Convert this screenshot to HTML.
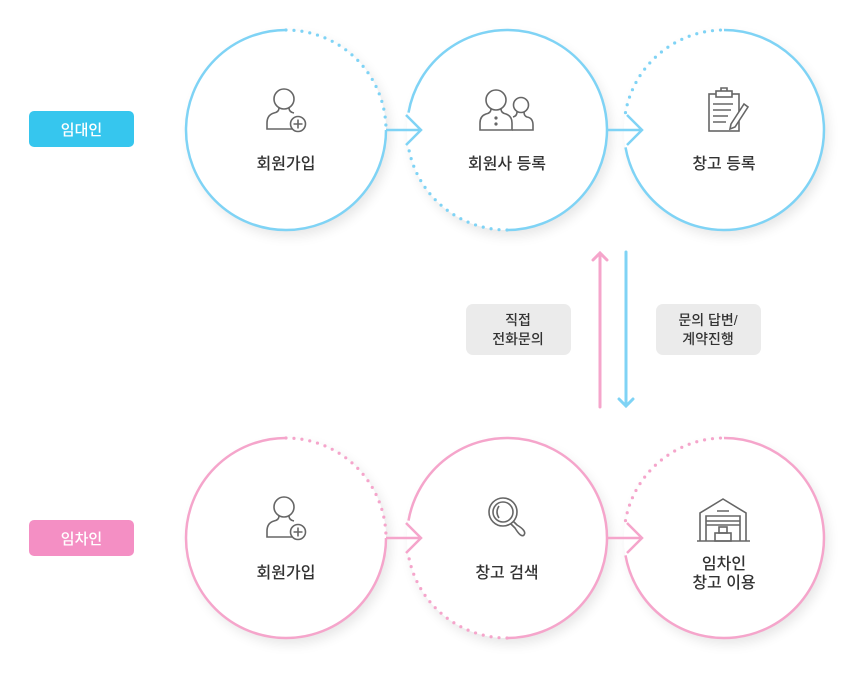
<!DOCTYPE html>
<html><head><meta charset="utf-8">
<style>
html,body{margin:0;padding:0;background:#fff;}
body{width:854px;height:669px;overflow:hidden;font-family:"Liberation Sans","Noto Sans CJK KR",sans-serif;}
text{font-family:"Liberation Sans","Noto Sans CJK KR",sans-serif;}
</style></head><body>
<svg width="854" height="669" viewBox="0 0 854 669" xmlns="http://www.w3.org/2000/svg">
<defs>
<filter id="sh" x="-30%" y="-30%" width="160%" height="160%">
<feGaussianBlur in="SourceAlpha" stdDeviation="6"/><feOffset dx="4" dy="6"/>
<feComponentTransfer><feFuncA type="linear" slope="0.1"/></feComponentTransfer>
<feMerge><feMergeNode/><feMergeNode in="SourceGraphic"/></feMerge></filter>
</defs>
<g fill="#fff" filter="url(#sh)">
<circle cx="286" cy="130" r="100"/><circle cx="507" cy="130" r="100"/><circle cx="724" cy="130" r="100"/>
<circle cx="286" cy="538" r="100"/><circle cx="507" cy="538" r="100"/><circle cx="724" cy="538" r="100"/>
</g>
<g fill="none" stroke="#7fd3f5" stroke-width="2.5">
<path d="M386,130 A100,100 0 1 1 286,30"/>
<path d="M286,30 A100,100 0 0 1 386,130" stroke-width="3.2" stroke-dasharray="0 8" stroke-linecap="round"/>
<path d="M408.5,112.6 A100,100 0 1 1 507,230"/>
<path d="M507,230 A100,100 0 0 1 408.5,147.4" stroke-width="3.2" stroke-dasharray="0 8" stroke-linecap="round"/>
<path d="M625.5,112.6 A100,100 0 0 1 724,30" stroke-width="3.2" stroke-dasharray="0 8" stroke-linecap="round"/>
<path d="M724,30 A100,100 0 1 1 625.5,147.4"/>
<path d="M386,130 H421 M406,115 L421,130 L406,145"/>
<path d="M607,130 H642 M627,115 L642,130 L627,145"/>
</g>
<g fill="none" stroke="#f5a5cb" stroke-width="2.5">
<path d="M386,538 A100,100 0 1 1 286,438"/>
<path d="M286,438 A100,100 0 0 1 386,538" stroke-width="3.2" stroke-dasharray="0 8" stroke-linecap="round"/>
<path d="M408.5,520.6 A100,100 0 1 1 507,638"/>
<path d="M507,638 A100,100 0 0 1 408.5,555.4" stroke-width="3.2" stroke-dasharray="0 8" stroke-linecap="round"/>
<path d="M625.5,520.6 A100,100 0 0 1 724,438" stroke-width="3.2" stroke-dasharray="0 8" stroke-linecap="round"/>
<path d="M724,438 A100,100 0 1 1 625.5,555.4"/>
<path d="M386,538 H421 M406,523 L421,538 L406,553"/>
<path d="M607,538 H642 M627,523 L642,538 L627,553"/>
</g>
<path d="M600,407 V253 M593,260 L600,253 L607,260" fill="none" stroke="#f5a5cb" stroke-width="3" stroke-linecap="round"/>
<path d="M626,252 V406 M619,399 L626,406 L633,399" fill="none" stroke="#7fd3f5" stroke-width="3" stroke-linecap="round"/>
<rect x="466" y="304" width="105" height="51" rx="7" fill="#ebebeb"/>
<rect x="656" y="304" width="105" height="51" rx="7" fill="#ebebeb"/>
<g font-size="14" fill="#333" text-anchor="middle" font-weight="500">
<text x="518" y="325">직접</text><text x="518" y="344">전화문의</text>
<text x="708" y="325">문의 답변/</text><text x="708" y="344">계약진행</text>
</g>
<rect x="29" y="111" width="105" height="36" rx="5" fill="#36c6ee"/>
<text x="81.5" y="135" font-size="15" fill="#fff" text-anchor="middle" font-weight="500">임대인</text>
<rect x="29" y="520" width="105" height="36" rx="5" fill="#f48fc4"/>
<text x="81.5" y="544" font-size="15" fill="#fff" text-anchor="middle" font-weight="500">임차인</text>
<g font-size="16" fill="#333" text-anchor="middle" font-weight="500">
<text x="286" y="169">회원가입</text>
<text x="507" y="169">회원사 등록</text>
<text x="724" y="169">창고 등록</text>
<text x="286" y="578">회원가입</text>
<text x="507" y="578">창고 검색</text>
<text x="724" y="569">임차인</text>
<text x="724" y="588">창고 이용</text>
</g>
<g fill="none" stroke="#666" stroke-width="1.6">
<g id="userplus">
<circle cx="284" cy="99" r="10"/>
<path d="M279,108 Q279,112 274,113 Q267,115 267,123 V129 H292"/>
<path d="M289,108 Q289,112 294,113"/>
<circle cx="298" cy="124" r="7.5" fill="#fff"/>
<path d="M298,119.5 V128.5 M293.5,124 H302.5"/>
</g>
<use href="#userplus" y="408"/>
<circle cx="496" cy="100" r="10"/>
<path d="M491,109 Q491,113 486,114 Q480,116 480,123 V130 H512 V123 Q512,116 506,114 Q501,113 501,109"/>
<circle cx="521" cy="105" r="7.5"/>
<path d="M512,130 H533 V125 Q533,118 527,117 Q524,116 524,112 M517,112 Q517,116 513,117"/>
<circle cx="496" cy="118" r="0.8" fill="#666"/><circle cx="496" cy="124" r="0.8" fill="#666"/>
<rect x="709" y="94" width="30" height="37"/>
<rect x="716" y="91" width="16" height="6" fill="#fff"/>
<path d="M721,91 V88 H727 V91"/>
<path d="M713,104 H733 M713,110 H731 M713,116 H728 M713,122 H726"/>
<path d="M731,124 L744,104 L748,107 L735,127 L730,129 Z" fill="#fff"/>
<circle cx="503" cy="512" r="14"/>
<circle cx="503" cy="512" r="10"/>
<path d="M499,506 Q495,512 499,518"/>
<path d="M511,524 L515,528 Q521,538 524,535 Q527,531 517,525 L513,521"/>
<path d="M697,541 H750 M700,541 V513 L723,499 L746,513 V541"/>
<path d="M706,541 V516 H740 V541 M706,521 H740 M706,525 H740 M717,511 H729"/>
<rect x="715" y="533" width="16" height="8"/>
<rect x="719" y="527" width="8" height="6"/>
</g>
</svg>
</body></html>
